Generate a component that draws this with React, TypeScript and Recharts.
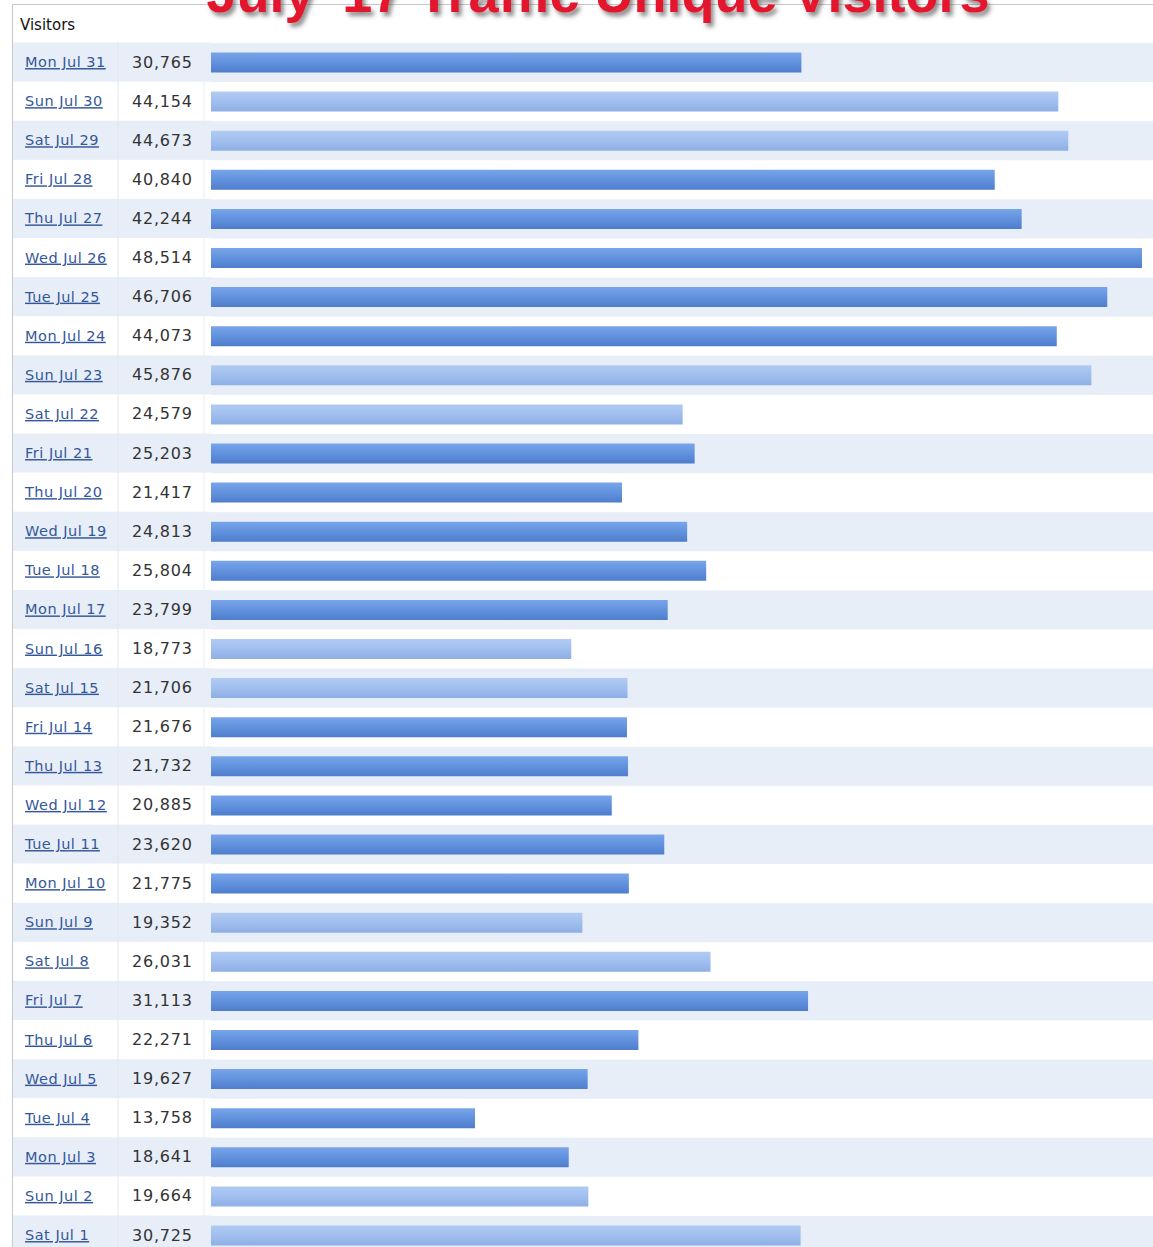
import { Bar, BarChart, Cell, XAxis, YAxis } from 'recharts';

// rows top to bottom, newest first
const dates = [
  'Mon Jul 31', 'Sun Jul 30', 'Sat Jul 29', 'Fri Jul 28', 'Thu Jul 27', 'Wed Jul 26',
  'Tue Jul 25', 'Mon Jul 24', 'Sun Jul 23', 'Sat Jul 22', 'Fri Jul 21', 'Thu Jul 20',
  'Wed Jul 19', 'Tue Jul 18', 'Mon Jul 17', 'Sun Jul 16', 'Sat Jul 15', 'Fri Jul 14',
  'Thu Jul 13', 'Wed Jul 12', 'Tue Jul 11', 'Mon Jul 10', 'Sun Jul 9', 'Sat Jul 8',
  'Fri Jul 7', 'Thu Jul 6', 'Wed Jul 5', 'Tue Jul 4', 'Mon Jul 3', 'Sun Jul 2', 'Sat Jul 1',
];

const visitors = [
  30765, 44154, 44673, 40840, 42244, 48514, 46706, 44073, 45876, 24579, 25203, 21417,
  24813, 25804, 23799, 18773, 21706, 21676, 21732, 20885, 23620, 21775, 19352, 26031,
  31113, 22271, 19627, 13758, 18641, 19664, 30725,
];

const weekendDays = ['Sat', 'Sun'];

const title = "July '17 Traffic Unique Visitors";
const headerLabel = 'Visitors';

const WIDTH = 1153;
const HEIGHT = 1247;
const CHART_H = 1256;
const ROW_H = 39.1;
const TOP = 42.5;
const AXIS_W = 211;
const RIGHT = 11;
const BAR_H = 20;
const STRIPE = '#e8eef8';
const FONT = '"DejaVu Sans", Verdana, sans-serif';

const chartData = dates.map((date, i) => ({
  date,
  visitors: visitors[i],
  weekend: weekendDays.includes(date.slice(0, 3)),
}));

// eslint-disable-next-line @typescript-eslint/no-explicit-any
function RowTick(props: any) {
  const { y, payload } = props;
  const index: number = payload.index;
  const row = chartData[index];
  const top = y - ROW_H / 2;
  return (
    <g>
      {index % 2 === 0 && (
        <rect x={13} y={top} width={AXIS_W - 13} height={ROW_H} fill={STRIPE} />
      )}
      <line x1={118} x2={118} y1={top} y2={top + ROW_H} stroke="#e3e7ec" />
      <line x1={204} x2={204} y1={top} y2={top + ROW_H} stroke="#eaedf1" />
      <text
        x={25}
        y={y + 5}
        fontSize={14.5}
        letterSpacing={0.5}
        fontFamily={FONT}
        fill="#34579a"
        textDecoration="underline"
      >
        {payload.value}
      </text>
      <text
        x={132}
        y={y + 5.5}
        fontSize={16}
        letterSpacing={0.8}
        fontFamily={FONT}
        fill="#333"
      >
        {row ? row.visitors.toLocaleString('en-US') : ''}
      </text>
    </g>
  );
}

// eslint-disable-next-line @typescript-eslint/no-explicit-any
function StripeBackground(props: any) {
  const { x, y, width, height, index } = props;
  if (index % 2 !== 0) return <g />;
  const top = y + height / 2 - ROW_H / 2;
  return <rect x={x} y={top} width={width + RIGHT} height={ROW_H} fill={STRIPE} />;
}

export default function App() {
  return (
    <div
      style={{
        position: 'absolute',
        left: 0,
        top: 0,
        width: WIDTH,
        height: HEIGHT,
        overflow: 'hidden',
        background: '#fff',
      }}
    >
      <BarChart
        width={WIDTH}
        height={CHART_H}
        data={chartData}
        layout="vertical"
        margin={{ top: TOP, right: RIGHT, bottom: CHART_H - TOP - ROW_H * dates.length, left: 0 }}
      >
        <defs>
          <linearGradient id="weekdayFill" x1="0" y1="0" x2="0" y2="1">
            <stop offset="0%" stopColor="#78a5ea" />
            <stop offset="45%" stopColor="#6493df" />
            <stop offset="100%" stopColor="#4e7dcd" />
          </linearGradient>
          <linearGradient id="weekendFill" x1="0" y1="0" x2="0" y2="1">
            <stop offset="0%" stopColor="#b0cbf3" />
            <stop offset="45%" stopColor="#a2c0ef" />
            <stop offset="100%" stopColor="#8eafe6" />
          </linearGradient>
        </defs>
        <XAxis type="number" dataKey="visitors" domain={[0, 'dataMax']} hide />
        <YAxis
          type="category"
          dataKey="date"
          width={AXIS_W}
          interval={0}
          axisLine={false}
          tickLine={false}
          tick={<RowTick />}
        />
        <Bar
          dataKey="visitors"
          barSize={BAR_H}
          isAnimationActive={false}
          background={(p: any) => <StripeBackground key={`bg-${p.index}`} {...p} />}
        >
          {chartData.map(d => (
            <Cell key={d.date} fill={d.weekend ? 'url(#weekendFill)' : 'url(#weekdayFill)'} />
          ))}
        </Bar>
      </BarChart>

      <svg
        width={WIDTH}
        height={60}
        style={{ position: 'absolute', left: 0, top: 0, pointerEvents: 'none' }}
      >
        <defs>
          <filter id="titleShadow" x="-5%" y="-50%" width="110%" height="200%">
            <feDropShadow dx={3} dy={4} stdDeviation={2} floodColor="#444" floodOpacity={0.6} />
          </filter>
        </defs>
        <line x1={12} x2={WIDTH} y1={4.5} y2={4.5} stroke="#c9c9c9" />
        <text
          x={598}
          y={12}
          textAnchor="middle"
          fontFamily='"Liberation Sans", Arial, sans-serif'
          fontWeight="bold"
          fontSize={54}
          fill="#e3142e"
          filter="url(#titleShadow)"
        >
          {title}
        </text>
        <text x={20} y={30} fontFamily={FONT} fontSize={15} fill="#111">
          {headerLabel}
        </text>
      </svg>
      <div
        style={{
          position: 'absolute',
          left: 12,
          top: 4,
          width: 1,
          height: HEIGHT,
          background: '#c9c9c9',
        }}
      />
    </div>
  );
}
